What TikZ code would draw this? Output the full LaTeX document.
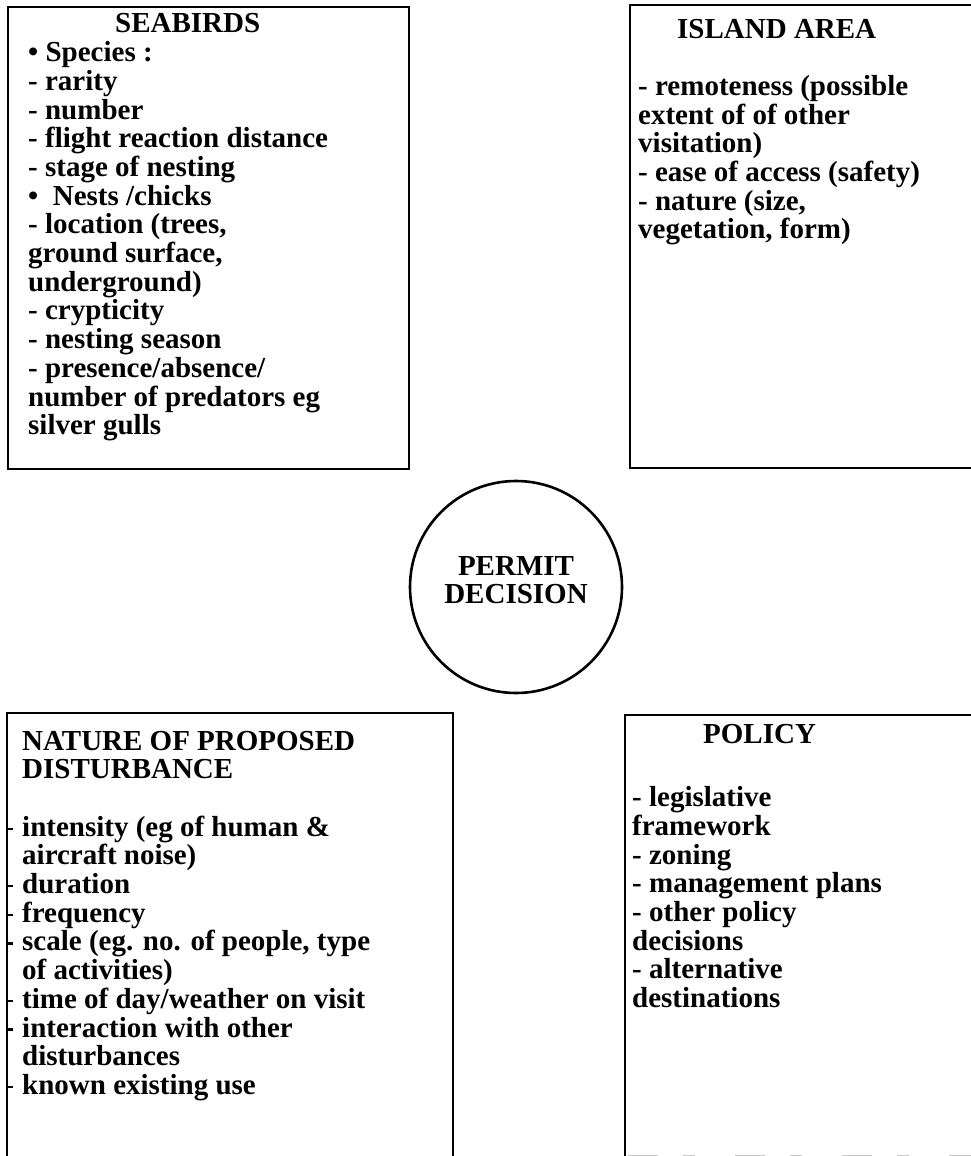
\documentclass[tikz,border=0pt]{standalone}
\usepackage{fontspec}
\setmainfont{Liberation Serif}
\tikzset{
  boxline/.style={line width=2.8pt, line cap=rect},
  txt/.style={anchor=base west, inner sep=0pt, font=\fontsize{29}{28.7}\selectfont\bfseries},
  ctxt/.style={inner sep=0pt, align=center, font=\fontsize{29}{28.2}\selectfont\bfseries},
  scanline/.style={line width=0.9pt, gray!45, dash pattern=on 30pt off 25pt on 12pt off 40pt}
}
\newcommand{\blk}[1]{\parbox[t]{440pt}{\raggedright #1}}
\newcommand{\itm}{\leavevmode\llap{\rule[6.3pt]{6pt}{2.3pt}\hspace{9.5pt}}}
\begin{document}
\begin{tikzpicture}[x=1pt, y=-1pt]
\useasboundingbox (0,0) rectangle (971,1156);
% boxes
\draw[boxline] (8,7) rectangle (409,469);
\draw[boxline] (975,5) -- (630,5) -- (630,468) -- (975,468);
\draw[boxline] (7,1160) -- (7,713) -- (453,713) -- (453,1160);
\draw[boxline] (625,1160) -- (625,715) -- (975,715);
\draw[scanline] (628,1155) -- (971,1155);
% circle
\node[circle, draw, line width=2.6pt, minimum size=212pt, inner sep=0pt] (pd) at (516,587) {};
\node[ctxt] (pdtext) at (516,580) {PERMIT\\DECISION};
% texts
\node[txt] (seabirds) at (28,33) {\blk{\hspace*{87pt}SEABIRDS\\
• Species :\\
- rarity\\
- number\\
- flight reaction distance\\
- stage of nesting\\
•\ \ Nests /chicks\\
- location (trees,\\
ground surface,\\
underground)\\
- crypticity\\
- nesting season\\
- presence/absence/\\
number of predators eg\\
silver gulls}};
\node[txt] (island) at (638,38) {\blk{\hspace*{39pt}ISLAND AREA\\[28.7pt]
- remoteness (possible\\
extent of of other\\
visitation)\\
- ease of access (safety)\\
- nature (size,\\
vegetation, form)}};
\node[txt] (nature) at (22,750) {\blk{NATURE OF PROPOSED\\
DISTURBANCE\\[28.7pt]
\itm intensity (eg of human \&\\
aircraft noise)\\
\itm duration\\
\itm frequency\\
\itm scale (eg. no. of people, type\\
of activities)\\
\itm time of day/weather on visit\\
\itm interaction with other\\
disturbances\\
\itm known existing use}};
\node[txt] (policy) at (632,743) {\blk{\hspace*{71pt}POLICY\\[35pt]
- legislative\\
framework\\
- zoning\\
- management plans\\
- other policy\\
decisions\\
- alternative\\
destinations}};
\end{tikzpicture}
\end{document}
